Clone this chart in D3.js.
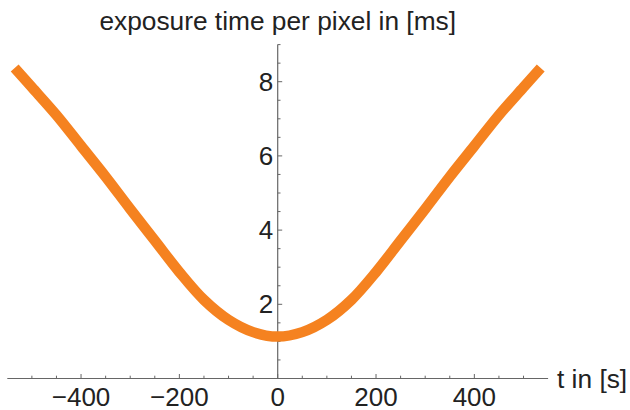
<!DOCTYPE html>
<html>
<head>
<meta charset="utf-8">
<script src="https://cdn.jsdelivr.net/npm/d3@7"></script>
<style>
  body { margin: 0; background: #fff; }
  svg { display: block; }
  text { font-family: "Liberation Sans", Arial, sans-serif; fill: #222; }
</style>
</head>
<body>
<div id="chart"></div>
<script>
// t in seconds
var times = [-535, -500, -450, -400, -350, -300, -250, -200, -150, -100, -50, 0,
             50, 100, 150, 200, 250, 300, 350, 400, 450, 500, 535];
// exposure time per pixel in ms
var exposure = [8.37, 7.85, 7.10, 6.27, 5.44, 4.57, 3.72, 2.87, 2.12, 1.58, 1.25, 1.13,
                1.25, 1.58, 2.12, 2.87, 3.72, 4.57, 5.44, 6.27, 7.10, 7.85, 8.37];

var xMajor = [-400, -200, 0, 200, 400];
var xMinor = [-500, -450, -350, -300, -250, -150, -100, -50, 50, 100, 150, 250, 300, 350, 450, 500];
var yMajor = [2, 4, 6, 8];
var yMinor = [0, 0.5, 1, 1.5, 2.5, 3, 3.5, 4.5, 5, 5.5, 6.5, 7, 7.5, 8.5, 9];

var xTitle = "t in [s]";
var yTitle = "exposure time per pixel in [ms]";

var width = 630, height = 410;

var x = d3.scaleLinear().domain([-550, 550]).range([7.3, 548.1]);
var y = d3.scaleLinear().domain([0, 9]).range([378.5, 44.6]);

var svg = d3.select("#chart").append("svg")
    .attr("width", width)
    .attr("height", height);

var axisColor = "#666";

// x axis: ticks point up into the plot
var xAxis = svg.append("g").attr("transform", "translate(0," + y(0) + ")");
xAxis.append("line")
    .attr("x1", x(-550)).attr("x2", x(550))
    .attr("stroke", axisColor).attr("stroke-width", 1.2);
xAxis.selectAll("line.minor").data(xMinor).enter().append("line")
    .attr("class", "minor")
    .attr("x1", d => x(d)).attr("x2", d => x(d))
    .attr("y1", 0).attr("y2", -2.8)
    .attr("stroke", axisColor).attr("stroke-width", 1);
xAxis.selectAll("line.major").data(xMajor).enter().append("line")
    .attr("class", "major")
    .attr("x1", d => x(d)).attr("x2", d => x(d))
    .attr("y1", 0).attr("y2", -4.5)
    .attr("stroke", axisColor).attr("stroke-width", 1);
xAxis.selectAll("text").data(xMajor).enter().append("text")
    .attr("x", d => x(d))
    .attr("y", 27)
    .attr("text-anchor", "middle")
    .style("font-size", "26px")
    .text(d => d < 0 ? "\u2212" + Math.abs(d) : d);

// y axis: ticks point right
var yAxis = svg.append("g").attr("transform", "translate(" + x(0) + ",0)");
yAxis.append("line")
    .attr("y1", y(0)).attr("y2", y(9))
    .attr("stroke", axisColor).attr("stroke-width", 1.2);
yAxis.selectAll("line.minor").data(yMinor).enter().append("line")
    .attr("class", "minor")
    .attr("y1", d => y(d)).attr("y2", d => y(d))
    .attr("x1", 0).attr("x2", 2.8)
    .attr("stroke", axisColor).attr("stroke-width", 1);
yAxis.selectAll("line.major").data(yMajor).enter().append("line")
    .attr("class", "major")
    .attr("y1", d => y(d)).attr("y2", d => y(d))
    .attr("x1", 0).attr("x2", 4.5)
    .attr("stroke", axisColor).attr("stroke-width", 1);
yAxis.selectAll("text").data(yMajor).enter().append("text")
    .attr("x", -4.5)
    .attr("y", d => y(d))
    .attr("dy", "0.35em")
    .attr("text-anchor", "end")
    .style("font-size", "26px")
    .text(d => d);

// axis labels
svg.append("text")
    .attr("x", x(0))
    .attr("y", 30)
    .attr("text-anchor", "middle")
    .style("font-size", "26.3px")
    .text(yTitle);

svg.append("text")
    .attr("x", 557)
    .attr("y", y(0))
    .attr("dy", "0.35em")
    .style("font-size", "26.3px")
    .text(xTitle);

// curve
var points = times.map((t, i) => [t, exposure[i]]);
var line = d3.line()
    .x(d => x(d[0]))
    .y(d => y(d[1]))
    .curve(d3.curveCatmullRom);

svg.append("path")
    .datum(points)
    .attr("d", line)
    .attr("fill", "none")
    .attr("stroke", "#f58220")
    .attr("stroke-width", 10.5);
</script>
</body>
</html>
